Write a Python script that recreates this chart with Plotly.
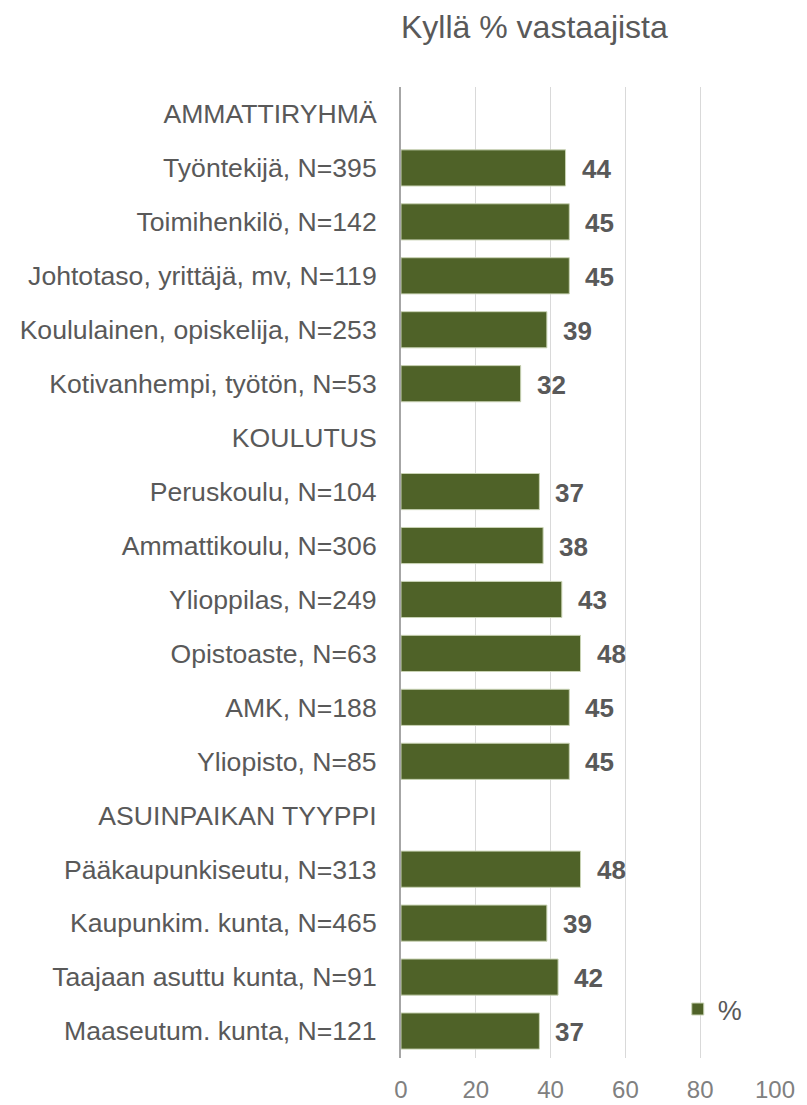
import plotly.graph_objects as go

categories = [
    "AMMATTIRYHMÄ",
    "Työntekijä, N=395",
    "Toimihenkilö, N=142",
    "Johtotaso, yrittäjä, mv, N=119",
    "Koululainen, opiskelija, N=253",
    "Kotivanhempi, työtön, N=53",
    "KOULUTUS",
    "Peruskoulu, N=104",
    "Ammattikoulu, N=306",
    "Ylioppilas, N=249",
    "Opistoaste, N=63",
    "AMK, N=188",
    "Yliopisto, N=85",
    "ASUINPAIKAN TYYPPI",
    "Pääkaupunkiseutu, N=313",
    "Kaupunkim. kunta, N=465",
    "Taajaan asuttu kunta, N=91",
    "Maaseutum. kunta, N=121",
]
values = [None, 44, 45, 45, 39, 32, None, 37, 38, 43, 48, 45, 45, None, 48, 39, 42, 37]
x_ticks = [0, 20, 40, 60, 80, 100]

FONT = "Arial, Liberation Sans, sans-serif"
BAR = "#4f6228"

fig = go.Figure()
fig.add_trace(go.Bar(
    y=categories, x=values, orientation="h", name="%",
    marker=dict(color=BAR, line=dict(color="#c9d3b4", width=1)),
    showlegend=True,
))

for c, v in zip(categories, values):
    if v is None:
        continue
    fig.add_annotation(x=v, y=c, text=f"<b>{v}</b>", showarrow=False,
                       xanchor="left", xshift=14, yshift=-1,
                       font=dict(family=FONT, size=26, color="#595959"))

fig.add_annotation(x=0.358, y=1.0, xref="paper", yref="paper", yanchor="bottom", yshift=41,
                   text="Kyllä % vastaajista", showarrow=False, borderpad=0,
                   font=dict(family=FONT, size=32, color="#595959"))

fig.update_layout(
    width=799, height=1097,
    margin=dict(l=393, r=32, t=79, b=47),
    paper_bgcolor="white", plot_bgcolor="white",
    bargap=0.33,
    font=dict(family=FONT, color="#595959"),
    legend=dict(x=0.74, y=0.05, xanchor="left", yanchor="middle", bgcolor="rgba(0,0,0,0)",
                font=dict(family=FONT, size=27, color="#595959"), itemwidth=30),
    xaxis=dict(range=[0, 100], tickvals=x_ticks, showgrid=True, gridcolor="#d9d9d9", gridwidth=1,
               zeroline=False, showline=False, automargin=False,
               tickfont=dict(family=FONT, size=24, color="#808080"), ticks="", ticklabelstandoff=15),
    yaxis=dict(categoryorder="array", categoryarray=categories, autorange="reversed",
               showline=True, linecolor="#a6a6a6", linewidth=2, showgrid=False, ticks="",
               automargin=False,
               tickfont=dict(family=FONT, size=26.6, color="#595959"), ticklabelstandoff=17),
)

fig.write_html("out.html")
